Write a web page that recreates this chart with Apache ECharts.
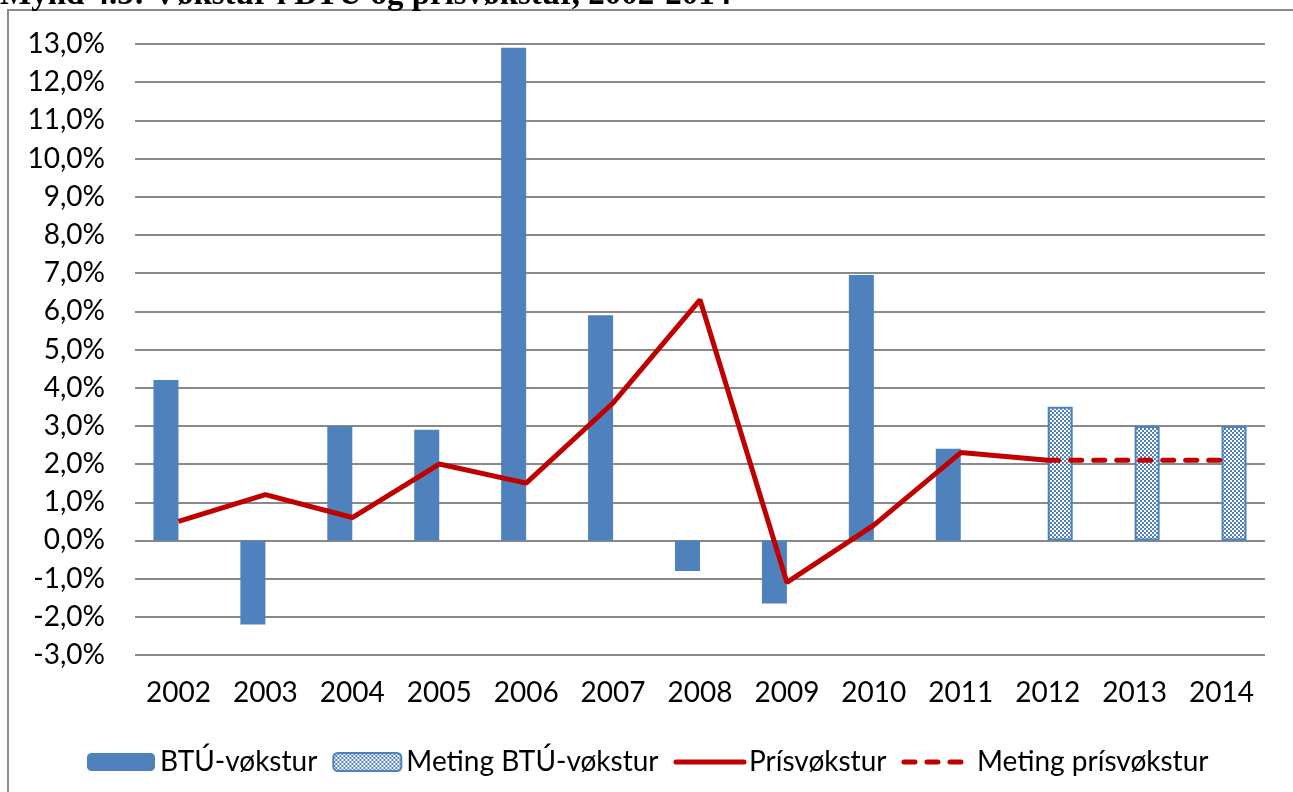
<!DOCTYPE html>
<html>
<head>
<meta charset="utf-8">
<script src="https://cdn.jsdelivr.net/npm/echarts@6/dist/echarts.min.js"></script>
<style>
  html, body { margin: 0; padding: 0; background: #fff; }
  #chart { width: 1293px; height: 792px; }
</style>
</head>
<body>
<div id="chart"></div>
<script>
// Mynd 4.3 - vøkstur í BTÚ og prísvøkstur
const years = ['2002', '2003', '2004', '2005', '2006', '2007', '2008', '2009', '2010', '2011', '2012', '2013', '2014']
const btuGrowth = [4.2, -2.2, 3.0, 2.9, 12.9, 5.9, -0.8, -1.65, 6.95, 2.4, null, null, null]
const btuForecast = [null, null, null, null, null, null, null, null, null, null, 3.5, 3.0, 3.0]
const priceGrowth = [0.5, 1.2, 0.6, 2.0, 1.5, 3.6, 6.3, -1.1, 0.4, 2.3, 2.1, null, null]
const priceForecast = [null, null, null, null, null, null, null, null, null, null, 2.1, 2.1, 2.1]

const BLUE = '#4F81BD'
const RED = '#C00000'
const FONT = 'Lato'
const TITLE = 'Mynd 4.3: Vøkstur í BTÚ og prísvøkstur, 2002-2014'

// checkered fill for the forecast bars
function checker () {
  const c = document.createElement('canvas')
  c.width = 4
  c.height = 4
  const ctx = c.getContext('2d')
  ctx.fillStyle = '#fff'
  ctx.fillRect(0, 0, 4, 4)
  ctx.fillStyle = BLUE
  ctx.fillRect(0, 0, 2, 2)
  ctx.fillRect(2, 2, 2, 2)
  return c
}

// title is cut off at the top in the original, size it to span ~730px
function titleSize () {
  const ctx = document.createElement('canvas').getContext('2d')
  ctx.font = 'bold 100px "Liberation Serif"'
  return Math.round(100 * 728 / ctx.measureText(TITLE).width)
}

const tSize = titleSize()
const chart = echarts.init(document.getElementById('chart'))

chart.setOption({
  animation: false,
  backgroundColor: '#fff',
  textStyle: { fontFamily: FONT },
  graphic: [
    {
      type: 'rect',
      z: 0,
      silent: true,
      shape: { x: 8, y: 10, width: 1300, height: 800 },
      style: { fill: 'none', stroke: '#8c8c8c', lineWidth: 2 }
    },
    {
      type: 'text',
      z: 10,
      silent: true,
      x: 0,
      y: 5 + Math.round(tSize * 0.22),
      style: {
        text: TITLE,
        font: 'bold ' + tSize + 'px "Liberation Serif"',
        fill: '#000',
        verticalAlign: 'bottom'
      }
    }
  ],
  grid: {
    left: 135,
    right: 28,
    top: 44,
    bottom: 137
  },
  legend: {
    left: 82,
    top: 743,
    itemWidth: 68,
    itemHeight: 18,
    itemGap: 15,
    textStyle: { fontFamily: FONT, fontSize: 28, color: '#000' },
    data: [
      'BTÚ-vøkstur',
      'Meting BTÚ-vøkstur',
      { name: 'Prísvøkstur', itemStyle: { opacity: 0 }, lineStyle: { width: 5, cap: 'round' } },
      { name: 'Meting prísvøkstur', itemStyle: { opacity: 0 }, lineStyle: { width: 5, type: [11, 12], cap: 'round' } }
    ]
  },
  xAxis: {
    type: 'category',
    data: years,
    axisLine: { show: false },
    axisTick: { show: false },
    axisLabel: { fontFamily: FONT, fontSize: 28, color: '#000', margin: 24 }
  },
  yAxis: {
    type: 'value',
    min: -3,
    max: 13,
    interval: 1,
    axisLine: { show: false },
    axisTick: { show: false },
    splitLine: { lineStyle: { color: '#898989', width: 2 } },
    axisLabel: {
      fontFamily: FONT,
      fontSize: 28,
      color: '#000',
      margin: 30,
      formatter: v => v.toFixed(1).replace('.', ',') + '%'
    }
  },
  series: [
    {
      name: 'BTÚ-vøkstur',
      type: 'bar',
      data: btuGrowth,
      barWidth: 25,
      barGap: '0%',
      itemStyle: { color: BLUE }
    },
    {
      name: 'Meting BTÚ-vøkstur',
      type: 'bar',
      data: btuForecast,
      barWidth: 25,
      barGap: '0%',
      itemStyle: {
        color: { image: checker(), repeat: 'repeat' },
        borderColor: BLUE,
        borderWidth: 2
      }
    },
    {
      name: 'Prísvøkstur',
      type: 'line',
      data: priceGrowth,
      symbol: 'none',
      z: 5,
      itemStyle: { color: RED },
      lineStyle: { color: RED, width: 5 }
    },
    {
      name: 'Meting prísvøkstur',
      type: 'line',
      data: priceForecast,
      symbol: 'none',
      z: 6,
      itemStyle: { color: RED },
      lineStyle: { color: RED, width: 5, type: [11, 12], cap: 'round' }
    }
  ]
})
</script>
</body>
</html>
